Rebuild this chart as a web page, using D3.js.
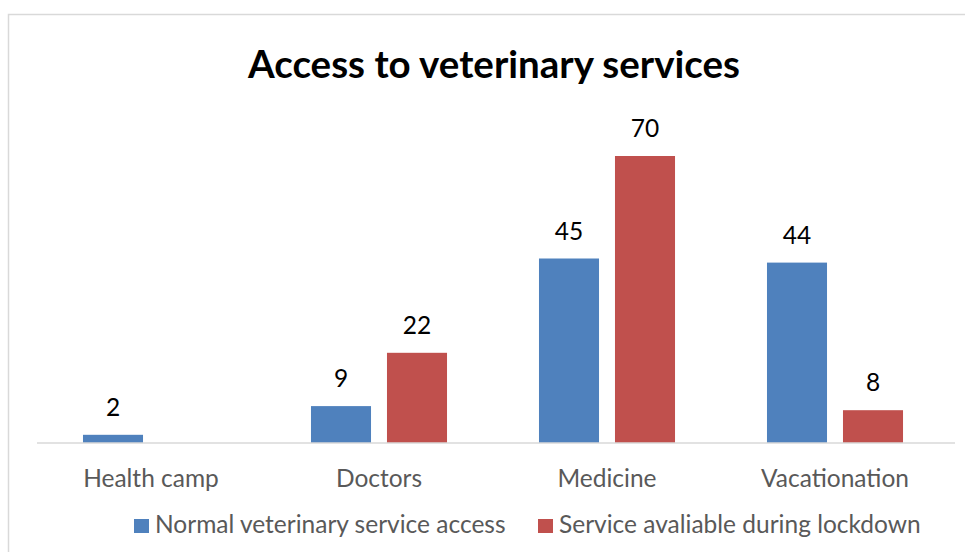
<!DOCTYPE html>
<html>
<head>
<meta charset="utf-8">
<script src="https://cdn.jsdelivr.net/npm/d3@7"></script>
<style>
  html, body { margin: 0; padding: 0; background: #fff; }
  svg { display: block; }
</style>
</head>
<body>
<svg id="chart" width="965" height="552"></svg>
<script>
// Chart data
const categories = ["Health camp", "Doctors", "Medicine", "Vacationation"];
const seriesNames = ["Normal veterinary service access", "Service avaliable during lockdown"];
const normalAccess = [2, 9, 45, 44];
const lockdownAccess = [0, 22, 70, 8];
const seriesColors = ["#4f81bd", "#c0504d"];

const width = 965, height = 552;
const font = "Lato, 'Open Sans', sans-serif";
const labelSize = 24.5;

const svg = d3.select("#chart");

// Outer chart frame
svg.append("rect")
  .attr("x", 8.5).attr("y", 14.5)
  .attr("width", width + 10).attr("height", height + 10)
  .attr("fill", "none").attr("stroke", "#d9d9d9").attr("stroke-width", 1.5);

const x0 = d3.scaleBand()
  .domain(categories)
  .range([37, 949])
  .paddingInner(0)
  .paddingOuter(0);

const x1 = d3.scaleBand()
  .domain([0, 1])
  .range([0, x0.bandwidth()])
  .paddingInner(0.21)
  .paddingOuter(0.605);

const baseY = 443;
const y = d3.scaleLinear()
  .domain([0, 70])
  .range([baseY, 156]);

const rows = categories.map((c, i) => ({
  category: c,
  values: [normalAccess[i], lockdownAccess[i]]
}));

const groups = svg.append("g").selectAll("g")
  .data(rows)
  .join("g")
  .attr("transform", d => `translate(${x0(d.category)},0)`);

groups.selectAll("rect")
  .data(d => d.values.map((v, k) => ({ v, k })))
  .join("rect")
  .attr("x", d => x1(d.k))
  .attr("y", d => y(d.v))
  .attr("width", x1.bandwidth())
  .attr("height", d => baseY - y(d.v))
  .attr("fill", d => seriesColors[d.k]);

// Value labels above bars
groups.selectAll("text")
  .data(d => d.values.map((v, k) => ({ v, k })).filter(d => d.v > 0))
  .join("text")
  .attr("x", d => x1(d.k) + x1.bandwidth() / 2)
  .attr("y", d => y(d.v) - 19)
  .attr("text-anchor", "middle")
  .attr("font-family", font)
  .attr("font-size", labelSize)
  .attr("fill", "#000")
  .text(d => d.v);

// Category axis
const axis = svg.append("g")
  .attr("transform", `translate(0,${baseY})`)
  .call(d3.axisBottom(x0).tickSize(0).tickPadding(27));
axis.select(".domain").attr("stroke", "#d9d9d9").attr("stroke-width", 1.5)
  .attr("d", `M37,0H955`);
axis.selectAll("text")
  .attr("font-family", font)
  .attr("font-size", labelSize)
  .attr("fill", "#595959");

// Title
svg.append("text")
  .attr("x", 494).attr("y", 77.5)
  .attr("text-anchor", "middle")
  .attr("font-family", font)
  .attr("font-weight", "bold")
  .attr("font-size", 38.5)
  .attr("fill", "#000")
  .text("Access to veterinary services");

// Legend
const legendX = [134, 538];
const legend = svg.append("g").selectAll("g")
  .data(seriesNames)
  .join("g")
  .attr("transform", (d, i) => `translate(${legendX[i]},519)`);
legend.append("rect")
  .attr("width", 15).attr("height", 14)
  .attr("fill", (d, i) => seriesColors[i]);
legend.append("text")
  .attr("x", 21).attr("y", 14)
  .attr("font-family", font)
  .attr("font-size", labelSize)
  .attr("fill", "#595959")
  .text(d => d);
</script>
</body>
</html>
